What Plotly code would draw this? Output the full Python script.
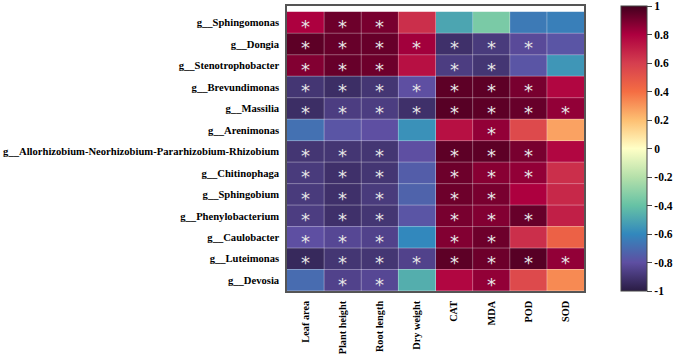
import plotly.graph_objects as go

genera = ["g__Sphingomonas", "g__Dongia", "g__Stenotrophobacter", "g__Brevundimonas",
          "g__Massilia", "g__Arenimonas", "g__Allorhizobium-Neorhizobium-Pararhizobium-Rhizobium",
          "g__Chitinophaga", "g__Sphingobium", "g__Phenylobacterium", "g__Caulobacter",
          "g__Luteimonas", "g__Devosia"]
traits = ["Leaf area", "Plant height", "Root length", "Dry weight", "CAT", "MDA", "POD", "SOD"]

corr = [
    [0.80, 0.92, 0.90, 0.65, -0.50, -0.35, -0.65, -0.63],
    [0.95, 0.93, 0.93, 0.82, -0.92, -0.88, -0.82, -0.78],
    [0.88, 0.93, 0.92, 0.75, -0.87, -0.90, -0.78, -0.55],
    [-0.90, -0.93, -0.90, -0.80, 0.95, 0.95, 0.90, 0.78],
    [-0.93, -0.87, -0.87, -0.92, 0.96, 0.95, 0.93, 0.85],
    [-0.68, -0.78, -0.80, -0.57, 0.75, 0.85, 0.55, 0.27],
    [-0.90, -0.90, -0.90, -0.80, 0.95, 0.95, 0.90, 0.78],
    [-0.88, -0.92, -0.90, -0.75, 0.92, 0.87, 0.85, 0.65],
    [-0.88, -0.92, -0.88, -0.73, 0.92, 0.90, 0.80, 0.67],
    [-0.87, -0.92, -0.90, -0.78, 0.90, 0.88, 0.93, 0.70],
    [-0.80, -0.83, -0.85, -0.60, 0.88, 0.92, 0.65, 0.45],
    [-0.95, -0.90, -0.90, -0.85, 0.95, 0.92, 0.96, 0.85],
    [-0.70, -0.85, -0.83, -0.47, 0.78, 0.85, 0.55, 0.33],
]
signif = [
    [1, 1, 1, 0, 0, 0, 0, 0],
    [1, 1, 1, 1, 1, 1, 1, 0],
    [1, 1, 1, 0, 1, 1, 0, 0],
    [1, 1, 1, 1, 1, 1, 1, 0],
    [1, 1, 1, 1, 1, 1, 1, 1],
    [0, 0, 0, 0, 0, 1, 0, 0],
    [1, 1, 1, 0, 1, 1, 1, 0],
    [1, 1, 1, 0, 1, 1, 1, 0],
    [1, 1, 1, 0, 1, 1, 0, 0],
    [1, 1, 1, 0, 1, 1, 1, 0],
    [1, 1, 1, 0, 1, 1, 0, 0],
    [1, 1, 1, 1, 1, 1, 1, 1],
    [0, 1, 1, 0, 0, 1, 0, 0],
]

cscale = [
    [0.0, "#2a1c44"], [0.1, "#5e4fa2"], [0.2, "#3288bd"], [0.3, "#66c2a5"],
    [0.4, "#b5e0aa"], [0.5, "#ffffc6"], [0.6, "#fdbf72"], [0.7, "#f46d43"],
    [0.8, "#d53e4f"], [0.9, "#ad003f"], [1.0, "#42001e"],
]

font_fam = "Liberation Serif"

fig = go.Figure()
fig.add_trace(go.Heatmap(
    z=corr, x=traits, y=genera, zmin=-1, zmax=1, colorscale=cscale,
    colorbar=dict(
        x=1.1246, xanchor="left", xref="paper", y=0.5, yanchor="middle",
        xpad=0, ypad=0,
        len=1.0, lenmode="fraction", thickness=26, thicknessmode="pixels",
        outlinewidth=1, outlinecolor="#444",
        tickvals=[-1, -0.8, -0.6, -0.4, -0.2, 0, 0.2, 0.4, 0.6, 0.8, 1],
        ticktext=["-1", "-0.8", "-0.6", "-0.4", "-0.2", "0", "0.2", "0.4", "0.6", "0.8", "1"],
        ticks="outside", ticklen=5, tickcolor="#444", ticklabeloverflow="allow",
        tickfont=dict(family=font_fam, size=11.5, color="black", weight="bold"),
    ),
    hoverongaps=False,
))

shapes = []
for i in range(1, len(traits)):
    shapes.append(dict(type="line", xref="x", yref="paper", x0=i - 0.5, x1=i - 0.5, y0=0, y1=1,
                       line=dict(color="rgba(255,255,255,0.35)", width=1)))
for j in range(1, len(genera)):
    shapes.append(dict(type="line", xref="paper", yref="y", x0=0, x1=1, y0=j - 0.5, y1=j - 0.5,
                       line=dict(color="rgba(255,255,255,0.35)", width=1)))

annotations = []
for j, g in enumerate(genera):
    for i, t in enumerate(traits):
        if signif[j][i]:
            annotations.append(dict(x=t, y=g, xref="x", yref="y", text="*", showarrow=False,
                                    yshift=-4,
                                    font=dict(family="DejaVu Sans", size=18, color="#e6e6e6")))

fig.update_layout(
    width=675, height=354,
    margin=dict(l=287, r=91, t=6, b=63, autoexpand=False),
    paper_bgcolor="white", plot_bgcolor="white",
    shapes=shapes, annotations=annotations,
    xaxis=dict(tickangle=-90, showline=True, mirror=True, linecolor="#555", linewidth=1.5,
               ticks="", showgrid=False, zeroline=False, automargin=False, ticklabelstandoff=4,
               ticklabeloverflow="allow",
               tickfont=dict(family=font_fam, size=10.3, color="black", weight="bold")),
    yaxis=dict(autorange="reversed", showline=True, mirror=True, linecolor="#555", linewidth=1.5,
               ticks="", showgrid=False, zeroline=False, ticklabelstandoff=4, automargin=False,
               ticklabeloverflow="allow",
               tickfont=dict(family=font_fam, size=10.6, color="black", weight="bold")),
)

fig.write_html("out.html")
